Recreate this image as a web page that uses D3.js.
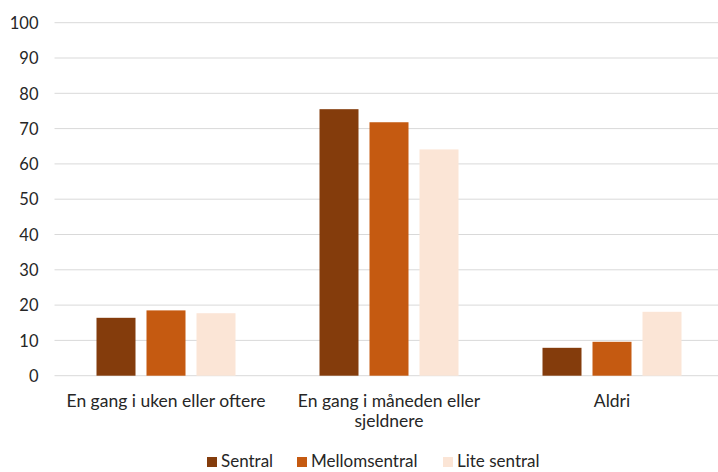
<!DOCTYPE html>
<html><head><meta charset="utf-8">
<script src="https://cdn.jsdelivr.net/npm/d3@7"></script>
<style>body{margin:0;background:#fff;} text{font-family:Lato,"Open Sans",sans-serif;fill:#262626;}</style>
</head><body>
<svg id="c" width="718" height="472"></svg>
<script>
const categories = ["En gang i uken eller oftere", "En gang i måneden eller sjeldnere", "Aldri"];
const seriesNames = ["Sentral", "Mellomsentral", "Lite sentral"];
const sentral = [16.4, 75.5, 7.9];
const mellomsentral = [18.5, 71.8, 9.6];
const liteSentral = [17.7, 64.1, 18.1];
const yTicks = [0,10,20,30,40,50,60,70,80,90,100];
const colors = ["#843C0C", "#C55A11", "#FBE5D6"];
const seriesValues = [sentral, mellomsentral, liteSentral];

const svg = d3.select("#c");
const pLeft = 54.5, pRight = 723.5, pTop = 22.7, pBottom = 375.7;
const x = d3.scaleBand().domain(categories).range([pLeft, pRight]).paddingInner(0).paddingOuter(0);
const y = d3.scaleLinear().domain([0,100]).range([pBottom, pTop]);
const bw = 39, gap = 11;

// gridlines
svg.append("g").selectAll("line").data(yTicks).join("line")
  .attr("x1", pLeft).attr("x2", pRight)
  .attr("y1", d=>y(d)).attr("y2", d=>y(d))
  .attr("stroke", "#d9d9d9").attr("stroke-width", 1);

// y axis labels
const yAxis = d3.axisLeft(y).tickValues(yTicks).tickSize(0).tickPadding(0);
const ga = svg.append("g").attr("transform", `translate(${38.5},0)`).call(yAxis);
ga.select(".domain").remove();
ga.selectAll("text").style("font-size","16.5px").style("font-family","Lato").attr("fill","#262626").attr("dy","0.35em");

// bars
seriesValues.forEach((vals, si) => {
  svg.append("g").selectAll("rect").data(categories).join("rect")
    .attr("x", (c) => x(c) + x.bandwidth()/2 - (3*bw+2*gap)/2 + si*(bw+gap))
    .attr("y", (c,i) => y(vals[i]))
    .attr("width", bw)
    .attr("height", (c,i) => y(0) - y(vals[i]))
    .attr("fill", colors[si]);
});

// category labels
const lines = {"En gang i måneden eller sjeldnere": ["En gang i måneden eller", "sjeldnere"]};
categories.forEach(c => {
  const ls = lines[c] || [c];
  const t = svg.append("text").attr("text-anchor","middle").style("font-size","17.5px")
    .attr("x", x(c)+x.bandwidth()/2).attr("y", 407);
  ls.forEach((l,i)=> t.append("tspan").attr("x", x(c)+x.bandwidth()/2).attr("dy", i?20:0).text(l));
});

// legend
const legX = [207, 297, 443];
seriesNames.forEach((n,i)=>{
  svg.append("rect").attr("x", legX[i]).attr("y", 457).attr("width", 10).attr("height", 10).attr("fill", colors[i]);
  svg.append("text").attr("x", legX[i]+14).attr("y", 467).style("font-size","17px").text(n);
});
</script>
</body></html>
